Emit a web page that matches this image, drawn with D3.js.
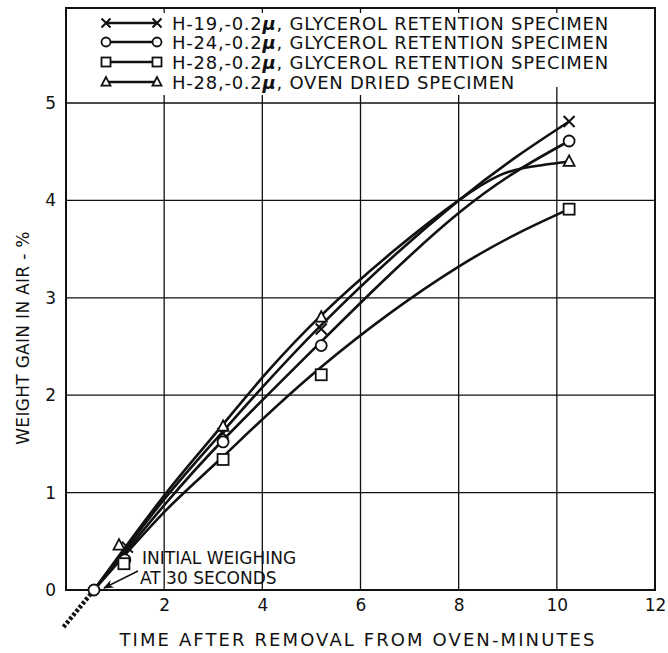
<!DOCTYPE html>
<html>
<head>
<meta charset="utf-8">
<script src="https://cdn.jsdelivr.net/npm/d3@7"></script>
<style>
  html, body { margin: 0; padding: 0; background: #fff; }
  svg { display: block; }
  text { font-family: "DejaVu Sans", sans-serif; fill: #111; }
</style>
</head>
<body>
<svg id="chart" width="668" height="653"></svg>
<script>
// ---------- DATA ----------
const seriesLabels = [
  "H-19,-0.2μ, GLYCEROL RETENTION SPECIMEN",
  "H-24,-0.2μ, GLYCEROL RETENTION SPECIMEN",
  "H-28,-0.2μ, GLYCEROL RETENTION SPECIMEN",
  "H-28,-0.2μ, OVEN DRIED SPECIMEN"
];
const seriesSymbols = ["cross", "circle", "square", "triangle"];

// measured points (minutes, % gain)
const h19Time = [1.25, 3.2, 5.2, 10.25];
const h19Gain = [0.44, 1.61, 2.68, 4.81];
const h24Time = [0.57, 1.2, 3.2, 5.2, 10.25];
const h24Gain = [0, 0.31, 1.52, 2.51, 4.61];
const h28gTime = [1.18, 3.2, 5.2, 10.25];
const h28gGain = [0.27, 1.34, 2.21, 3.91];
const h28oTime = [1.08, 3.2, 5.2, 10.25];
const h28oGain = [0.46, 1.68, 2.80, 4.40];

// faired curves as drawn in the reference
const h19CurveTime = [0.57, 2, 3.2, 5.2, 8, 10.25];
const h19CurveGain = [0, 0.93, 1.63, 2.72, 4.0, 4.81];
const h24CurveTime = [0.57, 2, 3.2, 5.2, 8, 10.25];
const h24CurveGain = [0, 0.87, 1.54, 2.55, 3.87, 4.61];
const h28gCurveTime = [0.57, 2, 3.2, 5.2, 8, 10.25];
const h28gCurveGain = [0, 0.80, 1.37, 2.29, 3.32, 3.91];
const h28oCurveTime = [0.57, 2, 3.2, 5.2, 8, 9.3, 10.25];
const h28oCurveGain = [0, 0.97, 1.70, 2.82, 4.0, 4.33, 4.40];

// extrapolation back toward zero time (dashed)
const extrapTime = [0.57, -0.05];
const extrapGain = [0, -0.38];

const xTicks = [2, 4, 6, 8, 10, 12];
const yTicks = [0, 1, 2, 3, 4, 5];
const xTitle = "TIME AFTER REMOVAL FROM OVEN-MINUTES";
const yTitle = "WEIGHT GAIN IN AIR - %";
const note1 = "INITIAL WEIGHING";
const note2 = "AT 30 SECONDS";

// ---------- DRAWING ----------
const svg = d3.select("#chart");
const x = d3.scaleLinear().domain([0, 12]).range([66, 655]);
const y = d3.scaleLinear().domain([0, 5]).range([590, 103]);
const frameTop = 8;
const ink = "#111";

const zip = (a, b) => a.map((v, i) => [v, b[i]]);
const series = [
  { pts: zip(h19Time, h19Gain), curve: zip(h19CurveTime, h19CurveGain) },
  { pts: zip(h24Time, h24Gain), curve: zip(h24CurveTime, h24CurveGain) },
  { pts: zip(h28gTime, h28gGain), curve: zip(h28gCurveTime, h28gCurveGain) },
  { pts: zip(h28oTime, h28oGain), curve: zip(h28oCurveTime, h28oCurveGain) }
];

// grid: horizontal
const grid = svg.append("g").attr("stroke", ink).attr("stroke-width", 1.3);
grid.selectAll("line.h").data(yTicks.filter(d => d > 0)).join("line")
  .attr("x1", x(0)).attr("x2", x(12))
  .attr("y1", d => y(d)).attr("y2", d => y(d));
// grid: vertical
grid.selectAll("line.v").data(xTicks.filter(d => d < 12)).join("line")
  .attr("x1", d => x(d)).attr("x2", d => x(d))
  .attr("y1", y(0)).attr("y2", d => d === 10 ? y(5) - 16 : y(5) - 8);
// small ticks at the top border
grid.selectAll("line.t").data(xTicks.filter(d => d < 12)).join("line")
  .attr("x1", d => x(d)).attr("x2", d => x(d))
  .attr("y1", frameTop).attr("y2", frameTop + 5);

// frame
svg.append("rect")
  .attr("x", x(0)).attr("y", frameTop)
  .attr("width", x(12) - x(0)).attr("height", y(0) - frameTop)
  .attr("fill", "none").attr("stroke", ink).attr("stroke-width", 2);

// axes via d3 (labels only, domain hidden)
const xAxis = svg.append("g").attr("transform", `translate(0,${y(0)})`)
  .call(d3.axisBottom(x).tickValues(xTicks).tickSize(0).tickPadding(9).tickFormat(d3.format("d")));
xAxis.select(".domain").remove();
xAxis.selectAll("text").attr("font-size", 17).attr("fill", ink).attr("font-family", "DejaVu Sans");

const yAxis = svg.append("g").attr("transform", `translate(${x(0)},0)`)
  .call(d3.axisLeft(y).tickValues(yTicks).tickSize(0).tickPadding(10).tickFormat(d3.format("d")));
yAxis.select(".domain").remove();
yAxis.selectAll("text").attr("font-size", 17).attr("fill", ink).attr("font-family", "DejaVu Sans");

// titles
svg.append("text").attr("x", 358).attr("y", 646).attr("text-anchor", "middle")
  .attr("font-size", 18).attr("letter-spacing", 2.1).text(xTitle);
svg.append("text").attr("transform", "translate(29,338) rotate(-90)").attr("text-anchor", "middle")
  .attr("font-size", 17).attr("letter-spacing", 0.3).text(yTitle);

// extrapolation
const line = d3.line().x(d => x(d[0])).y(d => y(d[1]));
svg.append("path").attr("d", line(zip(extrapTime, extrapGain)))
  .attr("fill", "none").attr("stroke", ink).attr("stroke-width", 4.5)
  .attr("stroke-dasharray", "3,2");

// curves
const curveLine = d3.line().x(d => x(d[0])).y(d => y(d[1])).curve(d3.curveNatural);
svg.append("g").selectAll("path").data(series).join("path")
  .attr("d", d => curveLine(d.curve))
  .attr("fill", "none").attr("stroke", ink).attr("stroke-width", 2.6);

// markers
function drawSymbol(g, type, cx, cy, s) {
  if (type === "cross") {
    g.append("path").attr("d", `M${cx - s},${cy - s}L${cx + s},${cy + s}M${cx - s},${cy + s}L${cx + s},${cy - s}`)
      .attr("stroke", ink).attr("stroke-width", 2).attr("fill", "none");
  } else if (type === "circle") {
    g.append("circle").attr("cx", cx).attr("cy", cy).attr("r", s)
      .attr("fill", "#fff").attr("stroke", ink).attr("stroke-width", 1.8);
  } else if (type === "square") {
    g.append("rect").attr("x", cx - s).attr("y", cy - s).attr("width", 2 * s).attr("height", 2 * s)
      .attr("fill", "#fff").attr("stroke", ink).attr("stroke-width", 1.8);
  } else {
    g.append("path").attr("d", `M${cx},${cy - s * 1.1}L${cx + s},${cy + s * 0.8}L${cx - s},${cy + s * 0.8}Z`)
      .attr("fill", "#fff").attr("stroke", ink).attr("stroke-width", 1.8);
  }
}
const mk = svg.append("g");
series.forEach((s, i) => {
  s.pts.forEach(p => drawSymbol(mk, seriesSymbols[i], x(p[0]), y(p[1]), 5.5));
});

// annotation
svg.append("text").attr("x", 142).attr("y", 564).attr("font-size", 17).text(note1);
svg.append("text").attr("x", 140).attr("y", 584).attr("font-size", 17).text(note2);
svg.append("defs").append("marker").attr("id", "arr").attr("viewBox", "0 0 10 10")
  .attr("refX", 9).attr("refY", 5).attr("markerWidth", 9).attr("markerHeight", 7)
  .attr("orient", "auto").append("path").attr("d", "M0,1L10,5L0,9L3,5Z").attr("fill", ink);
svg.append("line").attr("x1", 138).attr("y1", 571).attr("x2", 104).attr("y2", 588)
  .attr("stroke", ink).attr("stroke-width", 1.5).attr("marker-end", "url(#arr)");

// legend
const legY = [23, 42, 62, 82];
const leg = svg.append("g");
seriesLabels.forEach((lab, i) => {
  leg.append("line").attr("x1", 106).attr("x2", 157).attr("y1", legY[i]).attr("y2", legY[i])
    .attr("stroke", ink).attr("stroke-width", 2.6);
  drawSymbol(leg, seriesSymbols[i], 106, legY[i], 4.5);
  drawSymbol(leg, seriesSymbols[i], 157, legY[i], 4.5);
  const parts = lab.split("μ");
  const t = leg.append("text").attr("x", 172).attr("y", legY[i] + 6.5).attr("font-size", 18).attr("letter-spacing", 0.75);
  t.append("tspan").text(parts[0]);
  t.append("tspan").attr("font-style", "italic").attr("font-weight", "bold").text("μ");
  t.append("tspan").text(parts[1]);
});
</script>
</body>
</html>
